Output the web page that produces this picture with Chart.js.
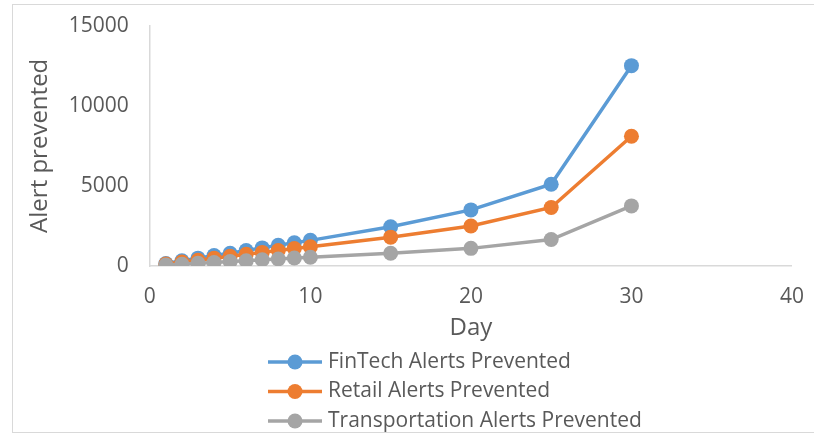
<!DOCTYPE html>
<html>
<head>
<meta charset="utf-8">
<script src="https://cdn.jsdelivr.net/npm/chart.js@4.4.1/dist/chart.umd.min.js"></script>
<style>
  html, body { margin: 0; padding: 0; background: #fff; }
  #wrap { position: relative; width: 814px; height: 437px; overflow: hidden; }
  #frame { position: absolute; left: 12px; top: 4px; width: 812px; height: 427px; border: 1px solid #d9d9d9; }
  canvas { position: absolute; left: 0; top: 0; }
</style>
</head>
<body>
<div id="wrap">
  <div id="frame"></div>
  <canvas id="chart" width="814" height="437"></canvas>
</div>
<script>
// values
const days = [1, 2, 3, 4, 5, 6, 7, 8, 9, 10, 15, 20, 25, 30];
const fintech = [160, 330, 490, 650, 800, 970, 1130, 1290, 1450, 1600, 2450, 3500, 5100, 12500];
const retail = [120, 250, 360, 490, 610, 730, 850, 970, 1090, 1200, 1800, 2500, 3650, 8100];
const transport = [60, 110, 170, 220, 280, 330, 390, 440, 500, 550, 800, 1100, 1650, 3750];
const seriesNames = ['FinTech Alerts Prevented', 'Retail Alerts Prevented', 'Transportation Alerts Prevented'];
const seriesColors = ['#5b9bd5', '#ed7d31', '#a5a5a5'];
const xTicks = [0, 10, 20, 30, 40];
const yTicks = [0, 5000, 10000, 15000];

const textColor = '#595959';
const fontFamily = '"Open Sans", "Liberation Sans", sans-serif';

function points(values) {
    return days.map((d, i) => ({ x: d, y: values[i] }));
}

function series(i, values) {
    return {
        label: seriesNames[i],
        data: points(values),
        showLine: true,
        borderColor: seriesColors[i],
        backgroundColor: seriesColors[i],
        borderWidth: 3.5,
        pointRadius: 7.5,
        pointHoverRadius: 7.5,
        pointBorderWidth: 0,
        tension: 0,
        order: 2 - i // later series on top, as in the picture
    };
}

// legend stacked one per row, left aligned
const stackedLegend = {
    id: 'stackedLegend',
    afterDraw(chart) {
        const ctx = chart.ctx;
        ctx.save();
        ctx.font = '21px ' + fontFamily;
        ctx.textBaseline = 'middle';
        chart.data.datasets.forEach((ds, i) => {
            const y = 362 + i * 29.5;
            ctx.strokeStyle = ds.borderColor;
            ctx.lineWidth = 3.5;
            ctx.beginPath();
            ctx.moveTo(268, y);
            ctx.lineTo(322, y);
            ctx.stroke();
            ctx.fillStyle = ds.backgroundColor;
            ctx.beginPath();
            ctx.arc(295, y, 7.5, 0, Math.PI * 2);
            ctx.fill();
            ctx.fillStyle = textColor;
            ctx.fillText(ds.label, 328, y);
        });
        ctx.restore();
    }
};

const ctx = document.getElementById('chart').getContext('2d');
new Chart(ctx, {
    type: 'scatter',
    data: {
        datasets: [series(0, fintech), series(1, retail), series(2, transport)]
    },
    options: {
        responsive: false,
        animation: false,
        devicePixelRatio: 1,
        layout: {
            autoPadding: false,
            padding: { left: 22, right: 18, top: 22, bottom: 90 }
        },
        plugins: {
            legend: { display: false },
            tooltip: { enabled: false }
        },
        scales: {
            x: {
                type: 'linear',
                min: 0,
                max: 40,
                afterBuildTicks: axis => { axis.ticks = xTicks.map(v => ({ value: v })); },
                ticks: { color: textColor, font: { family: fontFamily, size: 21 }, padding: 10 },
                grid: { display: false },
                border: { display: true, color: '#d9d9d9', width: 1.5 },
                title: {
                    display: true,
                    text: 'Day',
                    color: textColor,
                    font: { family: fontFamily, size: 24 },
                    padding: { top: -5, bottom: 4 }
                }
            },
            y: {
                type: 'linear',
                min: 0,
                max: 15000,
                afterBuildTicks: axis => { axis.ticks = yTicks.map(v => ({ value: v })); },
                ticks: {
                    color: textColor,
                    font: { family: fontFamily, size: 21 },
                    padding: 13,
                    callback: v => String(v)
                },
                grid: { display: false },
                border: { display: true, color: '#d9d9d9', width: 1.5 },
                title: {
                    display: true,
                    text: 'Alert prevented',
                    color: textColor,
                    font: { family: fontFamily, size: 24 },
                    padding: { top: 4, bottom: 1 }
                }
            }
        }
    },
    plugins: [stackedLegend]
});
</script>
</body>
</html>
